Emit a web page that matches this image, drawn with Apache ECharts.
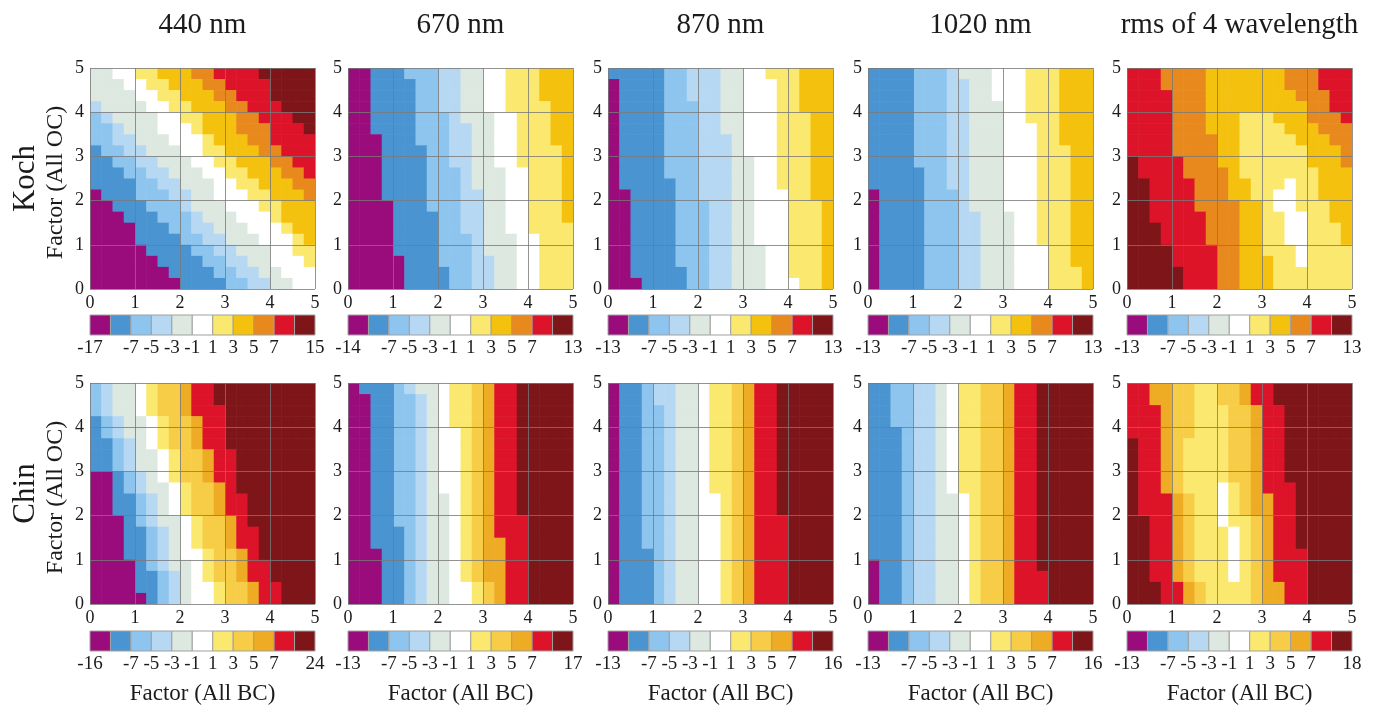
<!DOCTYPE html>
<html><head><meta charset="utf-8">
<script src="https://cdn.jsdelivr.net/npm/echarts@6/dist/echarts.min.js"></script>
<style>html,body{margin:0;padding:0;background:#fff}#c{width:1377px;height:711px}</style>
</head><body><div id="c"></div>
<script>
// ---------------- DATA ----------------
const COLUMN_TITLES = ['440 nm', '670 nm', '870 nm', '1020 nm', 'rms of 4 wavelength'];
const ROW_NAMES = ['Koch', 'Chin'];
const X_NAME = 'Factor (All BC)';
const Y_NAME = 'Factor (All OC)';
const AXIS_MIN = 0, AXIS_MAX = 5, AXIS_STEP = 1;
const CELL = 0.25; // grid step of the factor scan
// colour-bar labels: min, inner class boundaries, max
const CB_INNER = ['', '-7', '-5', '-3', '-1', '1', '3', '5', '7', ''];
const CB_MIN_KOCH = [-17, -14, -13, -13, -13];
const CB_MAX_KOCH = [15, 13, 13, 13, 13];
const CB_MIN_CHIN = [-16, -13, -13, -13, -13];
const CB_MAX_CHIN = [24, 17, 16, 16, 18];
const KOCH_COLORS = ['#9a0c7c','#4a95d1','#8ec5ee','#b6d8f3','#dce8e0','#ffffff','#fbe96f','#f4c10f','#e8891e','#dd1429','#7e1519'];
const CHIN_COLORS = ['#9a0c7c','#4a95d1','#8ec5ee','#b6d8f3','#dce8e0','#ffffff','#fbe96f','#f7cd47','#eeab24','#dd1429','#7e1519'];
// class index of each cell (0..9, A=10); rows from y=5 (top) to y=0, columns x=0..5
const KOCH_440 = [
'445566777889999AAAAA','4445566777889999AAAA','4444556677788999AAAA','34444556677788999AAA',
'234444556677788999AA','2234445556777888999A','22334445556777889999','12233444556677788999',
'11223344455667778899','11122334445566777889','11112233444556677788','01112223344555667778',
'00111222344455566777','00011122234445556777','00001112233444555677','00001111223344455567',
'00000111122334445566','00000011112233445556','00000001111223344555','00000000111122334455'];
const KOCH_670 = [
'00111222334455666777','00111122334455666777','00111122334455666777','00111122334455666677',
'00111122234445566677','00111122233445566677','00011122233445566677','00011112233445566667',
'00011112233445566667','00011112223444556667','00011112223444556667','00011112223344556667',
'00001112223344556667','00001111223344556667','00001111223344556666','00001111222344455666',
'00001111222344455666','00000111222334455666','00000111122334455666','00000111122334455666'];
const KOCH_870 = [
'11111223334455666777','01111223334455566777','01111223334455566777','01111222334455566777',
'01111222334455566677','01111222334455566677','01111222333455566677','01111222333455566677',
'01111222333445566677','01111222333445566677','01111122333445566677','00111122333445556677',
'00111122233445556667','00111122233445556667','00111122233445556667','00111122233445556667',
'00111122233444556667','00111122233444556667','00111112233444556667','00011112233444555667'];
const KOCH_1020 = [
'11112223444555666777','11112223344555666777','11112223344555666777','11112223344455666777',
'11112223344455666777','11112223344455566777','11112223344455566777','11112223344455566677',
'11112223344455566677','11111223344455566677','11111223344455566677','01111222344455566677',
'01111222344455566677','01111222334445566677','01111222334445566677','01111222334445566677',
'01111222334445556677','01111222334445556677','01111222334445556667','01111222334445556667'];
const KOCH_RMS = [
'99988887777777888999','99988887777777888999','99998887777777788899','99998887777777778899',
'99998887776667778889','99998887776666777888','99998888776666677788','99998888776666667778',
'A9999888776666667778','A9999888876666666777','AA999988877666566777','AA999988877665566777',
'AA999988887765566677','AA999998887766556677','AAA99998887766556667','AAA99998887766556667',
'AAAA9999887766656666','AAAA9999887776656666','AAAAA999887776666666','AAAAA999887776666666'];
const CHIN_440 = [
'23445677899AAAAAAAAA','23445677899AAAAAAAAA','234456778999AAAAAAAA','123445677899AAAAAAAA',
'123445677899AAAAAAAA','112345677899AAAAAAAA','1123445677899AAAAAAA','1123445677899AAAAAAA',
'0012345677899AAAAAAA','0012344567789AAAAAAA','00112345677899AAAAAA','00112345677899AAAAAA',
'00012344567789AAAAAA','000112345677899AAAAA','000112345677899AAAAA','000112345567789AAAAA',
'0000123445677899AAAA','0000112345677899AAAA','00001123455677899AAA','00000123455677899AAA'];
const CHIN_670 = [
'011123445667899AAAAA','001122345667899AAAAA','001122345667899AAAAA','001122345667899AAAAA',
'001122345567899AAAAA','001122345567899AAAAA','001122345567899AAAAA','001122345567899AAAAA',
'001122345567899AAAAA','001122345567899AAAAA','001122344567899AAAAA','001122344567899AAAAA',
'0011223445678999AAAA','0011123445678999AAAA','0011123445678899AAAA','0001123445678899AAAA',
'0001123445678899AAAA','0001123445678899AAAA','0001123445567899AAAA','0001123445567899AAAA'];
const CHIN_870 = [
'011233445667899AAAAA','011233445667899AAAAA','011223445667899AAAAA','011223445667899AAAAA',
'011223445667899AAAAA','011223445667899AAAAA','011223445667899AAAAA','011223445667899AAAAA',
'011223445667899AAAAA','011223445667899AAAAA','011223445567899AAAAA','011223445567899AAAAA',
'0112234455678999AAAA','0112234455678999AAAA','0112234455678999AAAA','0111234455678999AAAA',
'0111234455678999AAAA','0111234455678999AAAA','0111234455678999AAAA','0111234455678999AAAA'];
const CHIN_1020 = [
'112233456677899AAAAA','112233456677899AAAAA','112233456677899AAAAA','112233456677899AAAAA',
'111233456677899AAAAA','111233456677899AAAAA','111233456677899AAAAA','111233456677899AAAAA',
'111233456677899AAAAA','111233456677899AAAAA','111233445677899AAAAA','111233445677899AAAAA',
'111233445677899AAAAA','111233445677899AAAAA','111233445677899AAAAA','111233445677899AAAAA',
'011233445677899AAAAA','0112334456778999AAAA','0112334456778999AAAA','0112334456778999AAAA'];
const CHIN_RMS = [
'9988776677899AAAAAAA','9988776677899AAAAAAA','99987766677899AAAAAA','99987766677899AAAAAA',
'99987766677899AAAAAA','A9987666677899AAAAAA','A9987666677899AAAAAA','A9987666677899AAAAAA',
'A9987666677899AAAAAA','A99876665678999AAAAA','A99987665678899AAAAA','A99987665678899AAAAA',
'AA9987665667899AAAAA','AA9987666567899AAAAA','AA9987666567899AAAAA','AA99876665678999AAAA',
'AA99876665678999AAAA','AA99876665678999AAAA','AAA9987666678899AAAA','AAA9987666678899AAAA'];

// ---------------- LAYOUT ----------------
const PANELS = [[KOCH_440, KOCH_670, KOCH_870, KOCH_1020, KOCH_RMS],
                [CHIN_440, CHIN_670, CHIN_870, CHIN_1020, CHIN_RMS]];
const PALETTES = [KOCH_COLORS, CHIN_COLORS];
const CB_MIN = [CB_MIN_KOCH, CB_MIN_CHIN];
const CB_MAX = [CB_MAX_KOCH, CB_MAX_CHIN];
const LEFT = [90, 348, 608, 868, 1127];
const W = 225, H = 221;
const TOP = [68, 383];
const CB_TOP = [315, 631], CB_H = 20;
const FONT = "'Liberation Serif','DejaVu Serif',serif";
const TXT = '#1b1b1b';

function toCells(rows) {
  const out = [];
  rows.forEach((row, r) => {
    for (let c = 0; c < row.length; c++) {
      const k = parseInt(row[c], 16);
      out.push([c * CELL, AXIS_MAX - (r + 1) * CELL, k]);
    }
  });
  return out;
}

const grid = [], xAxis = [], yAxis = [], series = [], graphic = [];
let g = 0;
for (let R = 0; R < 2; R++) {
  for (let C = 0; C < 5; C++) {
    const pal = PALETTES[R];
    grid.push({left: LEFT[C], top: TOP[R], width: W, height: H});
    xAxis.push({gridIndex: g, type: 'value', min: AXIS_MIN, max: AXIS_MAX, interval: AXIS_STEP, z: 5,
      axisLine: {show: false}, axisTick: {show: false},
      splitLine: {show: true, lineStyle: {color: 'rgba(120,120,120,0.8)', width: 1}},
      axisLabel: {margin: 5, fontSize: 18, fontFamily: FONT, color: TXT, showMinLabel: true, showMaxLabel: true}});
    yAxis.push({gridIndex: g, type: 'value', min: AXIS_MIN, max: AXIS_MAX, interval: AXIS_STEP, z: 5,
      axisLine: {show: false}, axisTick: {show: false},
      splitLine: {show: true, lineStyle: {color: 'rgba(120,120,120,0.8)', width: 1}},
      axisLabel: {margin: 6, fontSize: 18, fontFamily: FONT, color: TXT, showMinLabel: true, showMaxLabel: true}});
    series.push({type: 'custom', xAxisIndex: g, yAxisIndex: g, data: toCells(PANELS[R][C]),
      encode: {x: 0, y: 1}, silent: true, clip: true,
      renderItem: (function (pal) {
        return function (params, api) {
          const x = api.value(0), y = api.value(1), k = api.value(2);
          const p0 = api.coord([x, y + CELL]);
          const p1 = api.coord([x + CELL, y]);
          return {type: 'rect', shape: {x: p0[0], y: p0[1], width: p1[0] - p0[0] + 0.6, height: p1[1] - p0[1] + 0.6},
            style: {fill: pal[k]}};
        };
      })(pal)});
    g++;
  }
}
for (let R = 0; R < 2; R++) {
  for (let C = 0; C < 5; C++) {
    const pal = PALETTES[R];
    const labels = [String(CB_MIN[R][C])].concat(CB_INNER).concat([String(CB_MAX[R][C])]);
    grid.push({left: LEFT[C], top: CB_TOP[R], width: W, height: CB_H});
    xAxis.push({gridIndex: g, type: 'value', min: 0, max: pal.length, interval: 1,
      axisLine: {show: false}, axisTick: {show: false}, splitLine: {show: false},
      axisLabel: {margin: 4, fontSize: 19, fontFamily: FONT, color: TXT, showMinLabel: true, showMaxLabel: true,
        hideOverlap: false, formatter: (function (lb) { return function (v) { return lb[Math.round(v)] || ''; }; })(labels)}});
    yAxis.push({gridIndex: g, type: 'value', min: 0, max: 1, show: false});
    series.push({type: 'custom', xAxisIndex: g, yAxisIndex: g, silent: true,
      data: pal.map((col, i) => [i, i]), encode: {x: 0, y: 1},
      renderItem: (function (pal) {
        return function (params, api) {
          const i = api.value(0);
          const p0 = api.coord([i, 1]);
          const p1 = api.coord([i + 1, 0]);
          return {type: 'rect', shape: {x: p0[0], y: p0[1], width: p1[0] - p0[0], height: p1[1] - p0[1]},
            style: {fill: pal[i], stroke: '#a0a0a0', lineWidth: 1}};
        };
      })(pal)});
    g++;
  }
}
function txt(text, x, y, size, rot) {
  return {type: 'text', x: x, y: y, rotation: rot || 0, silent: true,
    style: {text: text, font: size + 'px ' + FONT, fill: TXT, align: 'center', verticalAlign: 'middle',
      textAlign: 'center', textVerticalAlign: 'middle'}};
}
COLUMN_TITLES.forEach((t, C) => graphic.push(txt(t, LEFT[C] + W / 2, 25, 29)));
ROW_NAMES.forEach((t, R) => {
  graphic.push(txt(t, 26, TOP[R] + H / 2, 31, Math.PI / 2));
  graphic.push(txt(Y_NAME, 56, TOP[R] + H / 2 + 4, 24, Math.PI / 2));
});
COLUMN_TITLES.forEach((t, C) => graphic.push(txt(X_NAME, LEFT[C] + W / 2, 694, 23)));

const chart = echarts.init(document.getElementById('c'), null, {renderer: 'canvas'});
chart.setOption({animation: false, backgroundColor: '#ffffff', grid, xAxis, yAxis, series, graphic});
</script></body></html>
